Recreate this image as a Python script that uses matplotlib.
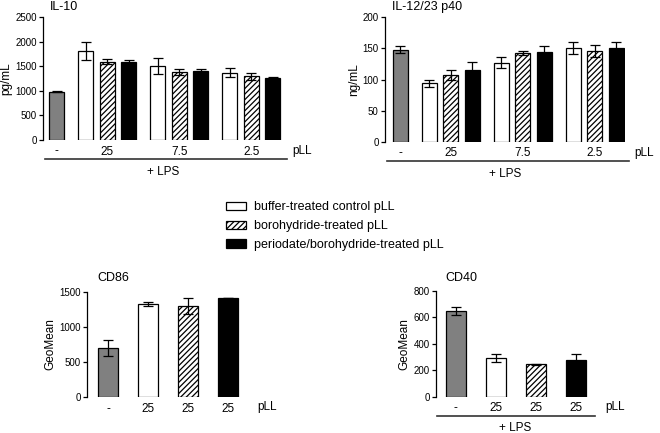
import numpy as np
import matplotlib
matplotlib.use("Agg")
import matplotlib.pyplot as plt
from matplotlib.patches import Patch
from matplotlib.lines import Line2D

plt.rcParams['font.family'] = ['Liberation Sans', 'DejaVu Sans']
plt.rcParams['font.size'] = 8.5
plt.rcParams['hatch.linewidth'] = 0.9

# data
il10_vals = [980, 1820, 1595, 1580, 1505, 1385, 1400, 1372, 1297, 1255]
il10_err = [10, 185, 55, 55, 165, 60, 45, 85, 65, 30]
il12_vals = [148, 94, 108, 116, 127, 143, 145, 151, 146, 151]
il12_err = [6, 6, 8, 12, 9, 3, 9, 10, 10, 10]
cd86_vals = [705, 1330, 1295, 1412]
cd86_err = [112, 28, 118, 5]
cd40_vals = [650, 294, 244, 277]
cd40_err = [30, 30, 2, 44]

dose_labels = ['-', '25', '7.5', '2.5']
cd_labels = ['-', '25', '25', '25']
legend_labels = ['buffer-treated control pLL', 'borohydride-treated pLL',
                 'periodate/borohydride-treated pLL']

GRAY = '#808080'
styles = [dict(color=GRAY, hatch=None), dict(color='white', hatch=None),
          dict(color='white', hatch='//////'), dict(color='black', hatch=None)]

W, H = 660, 433
fig = plt.figure(figsize=(W / 100, H / 100), dpi=100)


def px_axes(l, t, r, b):
    return fig.add_axes([l / W, 1 - b / H, (r - l) / W, (b - t) / H])


def ftext(x, y, s, **kw):
    fig.text(x / W, 1 - y / H, s, **kw)


def fline(x0, x1, y):
    fig.add_artist(Line2D([x0 / W, x1 / W], [1 - y / H, 1 - y / H],
                          color='#333333', lw=1.2))


def style_ax(ax, ymax, ystep):
    for s in ['top', 'right', 'bottom']:
        ax.spines[s].set_visible(False)
    ax.spines['left'].set_linewidth(0.9)
    ax.set_ylim(0, ymax)
    ax.set_yticks(np.arange(0, ymax + 1, ystep))
    ax.tick_params(axis='y', length=3, width=0.9, pad=1.5, labelsize=7)
    ax.tick_params(axis='x', length=0, pad=4, labelsize=8.5)


def draw_bars(ax, pos, vals, errs, kinds, width):
    for p, v, e, k in zip(pos, vals, errs, kinds):
        st = styles[k]
        ax.bar(p, v, width=width, color=st['color'], hatch=st['hatch'],
               edgecolor='black', linewidth=0.9, zorder=2)
        ax.errorbar(p, v, yerr=e, color='black', capsize=3.5, elinewidth=0.9,
                    capthick=0.9, zorder=3)


# IL-10 and IL-12/23 p40 panels
pos10 = [0, 1.35, 2.35, 3.35, 4.7, 5.7, 6.7, 8.05, 9.05, 10.05]
kinds10 = [0, 1, 2, 3, 1, 2, 3, 1, 2, 3]
tick_pos10 = [0, 2.35, 5.7, 9.05]

panels = [
    (43, 17.3, 283, 140, -0.63, 10.53, il10_vals, il10_err, 2500, 500, 'pg/mL', 'IL-10', 50),
    (385, 17.3, 625, 141.7, -0.70, 10.46, il12_vals, il12_err, 200, 50, 'ng/mL', 'IL-12/23 p40', 392),
]
for l, t, r, b, x0, x1, vals, errs, ymax, ystep, ylab, title, tx in panels:
    ax = px_axes(l, t, r, b)
    draw_bars(ax, pos10, vals, errs, kinds10, 0.7)
    style_ax(ax, ymax, ystep)
    ax.set_xlim(x0, x1)
    ax.set_xticks(tick_pos10)
    ax.set_xticklabels(dose_labels)
    ax.set_ylabel(ylab, labelpad=2, fontsize=8.5)
    ftext(tx, 10, title, fontsize=9, va='baseline')
    ftext(r + 9, b + 14, 'pLL', fontsize=8.5, va='baseline')
    fline(l + 2, r + 4, b + 19)
    ftext((l + r) / 2, b + 35, '+ LPS', fontsize=8.5, ha='center', va='baseline')

# CD86 and CD40 panels
pos_cd = [0, 1, 2, 3]
cd_panels = [
    (87, 291.7, 240, 397.3, -0.525, 3.3, cd86_vals, cd86_err, 1500, 500, 'CD86', 97, False),
    (436, 290.7, 588, 396.7, -0.49, 3.31, cd40_vals, cd40_err, 800, 200, 'CD40', 445, True),
]
for l, t, r, b, x0, x1, vals, errs, ymax, ystep, title, tx, lps in cd_panels:
    ax = px_axes(l, t, r, b)
    draw_bars(ax, pos_cd, vals, errs, [0, 1, 2, 3], 0.5)
    style_ax(ax, ymax, ystep)
    ax.set_xlim(x0, x1)
    ax.set_xticks(pos_cd)
    ax.set_xticklabels(cd_labels)
    ax.set_ylabel('GeoMean', labelpad=2, fontsize=8.5)
    ftext(tx, 281, title, fontsize=9, va='baseline')
    ftext(r + 17, b + 13, 'pLL', fontsize=8.5, va='baseline')
    if lps:
        fline(l + 1, r + 7, b + 19)
        ftext((l + r) / 2 + 3, b + 34, '+ LPS', fontsize=8.5, ha='center', va='baseline')

# shared legend
handles = [Patch(facecolor=styles[k]['color'], hatch=styles[k]['hatch'],
                 edgecolor='black', linewidth=0.9) for k in [1, 2, 3]]
fig.legend(handles, legend_labels, loc='upper left',
           bbox_to_anchor=(215 / W, 1 - 190 / H), frameon=False, fontsize=9,
           handlelength=1.6, handleheight=0.65, labelspacing=0.55,
           handletextpad=0.65)

fig.savefig('out.png', dpi=100)
